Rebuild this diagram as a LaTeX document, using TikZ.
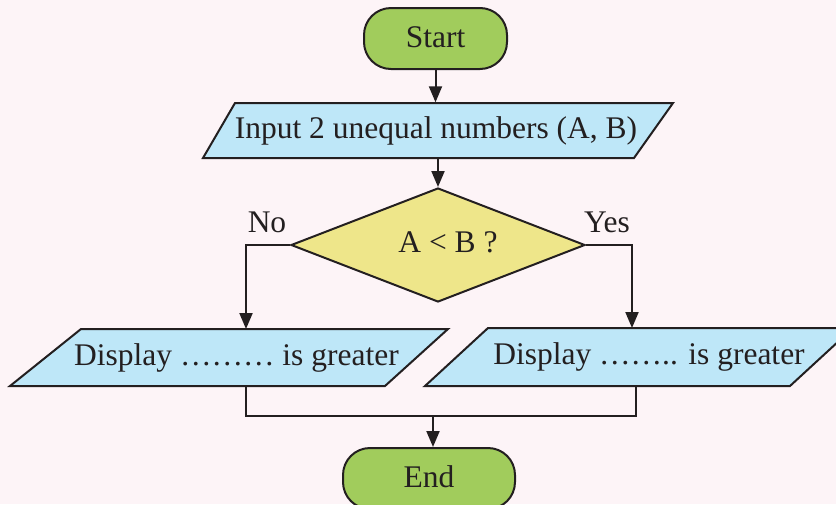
\documentclass[tikz,border=0pt]{standalone}
\usepackage{fontspec}
\setmainfont{Liberation Serif}
\usetikzlibrary{shapes.geometric,arrows.meta}
\definecolor{bgpink}{HTML}{FDF4F7}
\definecolor{termgreen}{HTML}{A1CC5C}
\definecolor{ioblue}{HTML}{BEE7F8}
\definecolor{decyellow}{HTML}{EEE68A}
\definecolor{ink}{HTML}{231F20}
\tikzset{
  base/.style={line width=2pt, draw=ink, text=ink, font=\fontsize{31.5}{36}\selectfont},
  term/.style={base, fill=termgreen, rounded corners=27pt, minimum height=61pt, inner sep=0pt},
  iobox/.style={base, fill=ioblue, line join=miter},
  iotext/.style={font=\fontsize{31.5}{36}\selectfont, text=ink, inner sep=0pt, minimum height=56pt},
  decision/.style={base, diamond, fill=decyellow, minimum width=294pt, minimum height=114pt, inner sep=0pt},
  lbl/.style={font=\fontsize{31.5}{36}\selectfont, text=ink, inner sep=0pt},
  conn/.style={line width=2pt, draw=ink},
  arr/.style={conn, -{Triangle[length=16pt,width=13pt]}},
}
\begin{document}
\begin{tikzpicture}[x=1pt,y=-1pt]
\useasboundingbox (0,0) rectangle (836,504);
\fill[bgpink] (0,0) rectangle (836,504);
\clip (0,0) rectangle (836,504);

% Start
\node[term, minimum width=143pt] (start) at (435.5,38.5) {\raisebox{2pt}{Start}};

% Input parallelogram
\draw[iobox] (235,103) -- (673,103) -- (634,158) -- (203,158) -- cycle;
\node[iotext] (inp) at (436,130.5) {Input 2 unequal numbers (A, B)};

% Decision
\node[decision] (dec) at (438,245) {};
\node[lbl] (dectext) at (448,242.5) {A < B ?};

% Left display
\draw[iobox] (81,329) -- (448,329) -- (385,386) -- (10,386) -- cycle;
\node[iotext] (dispL) at (236.5,357.5) {Display ……… is greater};
\coordinate (ltop) at (246,329);
\coordinate (lbot) at (246,386);

% Right display
\draw[iobox] (488,328) -- (853,328) -- (790,386) -- (425,386) -- cycle;
\node[iotext] (dispR) at (649,357) {Display …….. is greater};
\coordinate (rtop) at (632,328);
\coordinate (rbot) at (636,386);

% End
\node[term, minimum width=172pt] (end) at (429,478.5) {\raisebox{3pt}{End}};

% Labels
\node[lbl] (no) at (267,222) {No};
\node[lbl] (yes) at (607,222) {Yes};

% Connectors
\draw[arr] (start.south) -- (start.south |- inp.north);
\draw[arr] (dec.north |- inp.south) -- (dec.north);
\draw[arr] (dec.west) -| (ltop);
\draw[arr] (dec.east) -| (rtop);
\coordinate (jn) at (433,416);
\draw[conn] (lbot) |- (jn) -| (rbot);
\draw[arr] (jn) -- (jn |- end.north);
\end{tikzpicture}
\end{document}
